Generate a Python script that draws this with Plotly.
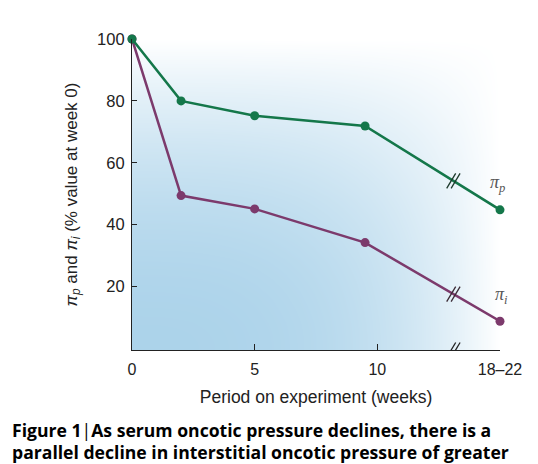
import numpy as np
import plotly.graph_objects as go

# ---- data ----
week_pos = [0, 2, 5, 9.5, 15]          # last point plotted at the "18–22" position
pi_p = [100, 80, 75.2, 71.9, 44.8]
pi_i = [100, 49.4, 45.1, 34.2, 8.8]
xtick_vals = [0, 5, 10, 15]
xtick_text = ["0", "5", "10", "18–22"]
ytick_vals = [20, 40, 60, 80, 100]
break_x = 13.1

GREEN = "#14774a"
PURPLE = "#7c3a6c"
FONT = "Liberation Sans, Arial, sans-serif"

X0, X1 = 0, 15
Y0, Y1 = -0.5, 100
L, R, T, B = 132, 38, 39, 114
W, H = 538, 464
pw, ph = W - L - R, H - T - B
sx = pw / (X1 - X0)
sy = ph / (Y1 - Y0)

fig = go.Figure()

# background gradient
gx = np.linspace(X0, X1, 80)
gy = np.linspace(Y0, Y1, 80)
U, V = np.meshgrid(gx / X1, np.clip(gy, 0, None) / Y1)
Z = (1 - U ** 3) * (1 - V ** 2)
fig.add_trace(go.Heatmap(x=gx, y=gy, z=Z, zmin=0, zmax=1, zsmooth="best",
                         colorscale=[[0, "rgba(255,255,255,1)"], [1, "rgb(172,211,234)"]],
                         showscale=False, hoverinfo="skip"))

fig.add_trace(go.Scatter(x=week_pos, y=pi_i, mode="lines+markers",
                         line=dict(color=PURPLE, width=2.5),
                         marker=dict(color=PURPLE, size=9), cliponaxis=False))
fig.add_trace(go.Scatter(x=week_pos, y=pi_p, mode="lines+markers",
                         line=dict(color=GREEN, width=2.5),
                         marker=dict(color=GREEN, size=9), cliponaxis=False))

def interp(xs, ys, x):
    return float(np.interp(x, xs, ys))

def slash_pair(xc, yc, color):
    shapes = []
    dx, dy = 9.0, 15.0
    for off in (-2.2, 2.2):
        shapes.append(dict(type="line", xref="x", yref="y",
                           x0=xc + (off - dx / 2) / sx, y0=yc - (dy / 2) / sy,
                           x1=xc + (off + dx / 2) / sx, y1=yc + (dy / 2) / sy,
                           line=dict(color=color, width=1.3), layer="above"))
    return shapes

shapes = []
shapes += slash_pair(break_x, interp(week_pos, pi_p, break_x), "#1d3a2c")
shapes += slash_pair(break_x, interp(week_pos, pi_i, break_x), "#3a2a35")
shapes += slash_pair(break_x, Y0, "#222")
fig.update_layout(shapes=shapes)

fig.update_xaxes(range=[X0, X1], tickvals=xtick_vals, ticktext=xtick_text,
                 ticks="inside", ticklen=6, tickcolor="#222", showline=True,
                 linecolor="#222", linewidth=1.2, showgrid=False, zeroline=False,
                 ticklabelstandoff=5,
                 tickfont=dict(family=FONT, size=16, color="#222"),
                 title=dict(text="Period on experiment (weeks)",
                            font=dict(family=FONT, size=17.5, color="#222"), standoff=13))
fig.update_yaxes(range=[Y0, Y1], tickvals=ytick_vals,
                 ticks="inside", ticklen=5, tickcolor="#222", showline=True,
                 linecolor="#222", linewidth=1.2, showgrid=False, zeroline=False,
                 ticklabelstandoff=3,
                 tickfont=dict(family=FONT, size=16.5, color="#222"),
                 title=dict(text="<i>π</i><sub><i>p</i></sub> and <i>π</i><sub><i>i</i></sub> (% value at week 0)",
                            font=dict(family=FONT, size=17, color="#222"), standoff=15))

LBL_FONT = dict(family="Liberation Serif, serif", size=18, color="#555")
CAP_FONT = dict(family="Open Sans, sans-serif", size=17.6, color="#000")
ann = [
    dict(x=week_pos[-1], y=pi_p[-1], xref="x", yref="y", text="<i>π</i><sub><i>p</i></sub>",
         showarrow=False, xshift=-3, yshift=26, font=LBL_FONT),
    dict(x=week_pos[-1], y=pi_i[-1], xref="x", yref="y", text="<i>π</i><sub><i>i</i></sub>",
         showarrow=False, xshift=1, yshift=26, font=LBL_FONT),
    dict(x=(10 - L) / pw, y=(H - B - 416) / ph, xref="paper", yref="paper", xanchor="left", yanchor="top",
         text="<b>Figure 1</b><span style='font-weight:normal'>|</span><b>As serum oncotic pressure declines, there is a</b>",
         showarrow=False, align="left", font=CAP_FONT),
    dict(x=(10 - L) / pw, y=(H - B - 438) / ph, xref="paper", yref="paper", xanchor="left", yanchor="top",
         text="<b>parallel decline in interstitial oncotic pressure of greater</b>",
         showarrow=False, align="left", font=CAP_FONT),
]
fig.update_layout(annotations=ann, width=W, height=H,
                  margin=dict(l=L, r=R, t=T, b=B, autoexpand=False),
                  paper_bgcolor="white", plot_bgcolor="white", showlegend=False)

fig.write_html("out.html", config={"displayModeBar": False},
               post_script="document.body.style.margin='0';document.body.style.overflow='hidden';")
